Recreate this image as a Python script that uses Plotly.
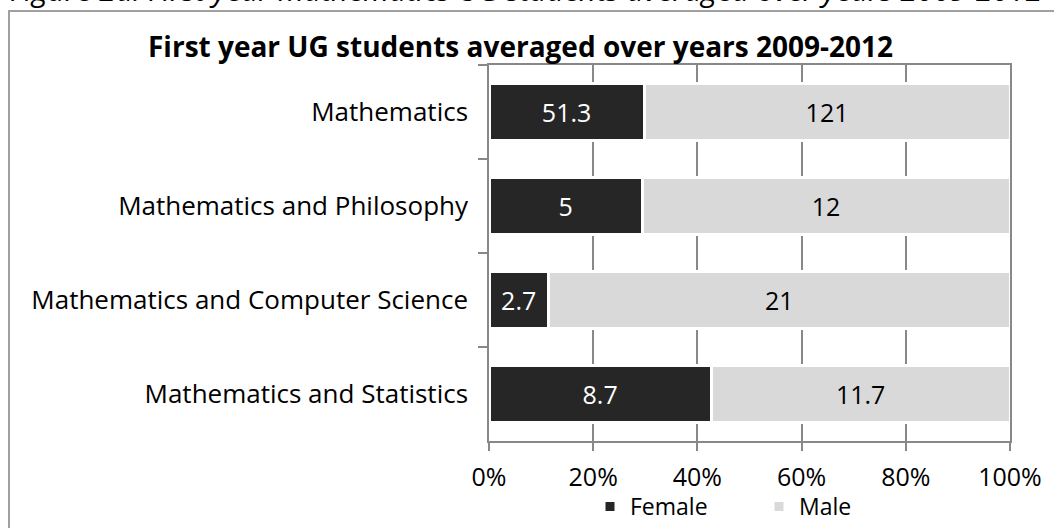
import plotly.graph_objects as go

# Average first-year undergraduate intake, 2009-2012
courses = [
    "Mathematics",
    "Mathematics and Philosophy",
    "Mathematics and Computer Science",
    "Mathematics and Statistics",
]
female = [51.3, 5, 2.7, 8.7]
male = [121, 12, 21, 11.7]
x_ticks = [0, 20, 40, 60, 80, 100]
x_tick_labels = ["0%", "20%", "40%", "60%", "80%", "100%"]

FONT = "Open Sans"
W, H = 1054, 528
L, R, T, B = 489, 44, 65, 87
plot_w = W - L - R
plot_h = H - T - B


def px_x(px):
    return (px - L) / plot_w


def px_y(py):
    return (H - B - py) / plot_h


fig = go.Figure()
fig.add_trace(go.Bar(
    y=courses, x=female, name="Female", orientation="h",
    marker=dict(color="#262626", line=dict(color="white", width=3)),
    text=[f"{v:g}" for v in female], textposition="inside",
    insidetextanchor="middle",
    textfont=dict(family=FONT, size=25, color="white"),
    hoverinfo="skip",
))
fig.add_trace(go.Bar(
    y=courses, x=male, name="Male", orientation="h",
    marker=dict(color="#d9d9d9", line=dict(color="white", width=3)),
    text=[f"{v:g}" for v in male], textposition="inside",
    insidetextanchor="middle",
    textfont=dict(family=FONT, size=25, color="black"),
    hoverinfo="skip",
))

fig.update_layout(
    width=W, height=H,
    margin=dict(l=L, r=R, t=T, b=B, autoexpand=False),
    barmode="stack", barnorm="percent", bargap=0.39,
    plot_bgcolor="white", paper_bgcolor="white",
    font=dict(family=FONT, size=25, color="black"),
    uniformtext=dict(mode="show", minsize=10),
    showlegend=True,
    legend=dict(
        orientation="h", x=px_x(590), y=px_y(485), xanchor="left", yanchor="top",
        font=dict(family=FONT, size=23, color="black"),
        traceorder="normal", entrywidth=124, itemwidth=30,
        bgcolor="rgba(0,0,0,0)",
    ),
    xaxis=dict(
        range=[0, 100], tickvals=x_ticks, ticktext=x_tick_labels,
        showgrid=True, gridcolor="#888888", gridwidth=1.5,
        showline=True, linecolor="#888888", linewidth=1.5, mirror=True,
        ticks="outside", ticklen=8, tickcolor="#888888", tickwidth=1.5,
        ticklabelstandoff=5, zeroline=False, fixedrange=True,
        tickfont=dict(family=FONT, size=25, color="black"),
    ),
    yaxis=dict(
        categoryorder="array", categoryarray=courses, autorange="reversed",
        showgrid=False, showline=True, linecolor="#888888", linewidth=1.5,
        mirror=True, ticks="outside", ticklen=9, tickcolor="#888888",
        tickwidth=1.5, tickson="boundaries", ticklabelstandoff=14,
        fixedrange=True,
        tickfont=dict(family=FONT, size=26, color="black"),
    ),
)

# Chart title
fig.add_annotation(
    text="<b>First year UG students averaged over years 2009-2012</b>",
    xref="paper", yref="paper", x=px_x(520), y=px_y(46),
    xanchor="center", yanchor="middle", showarrow=False,
    font=dict(family=FONT, size=28, color="black"),
)

# Figure caption sitting above the chart frame
fig.add_annotation(
    text="<i>Figure 2a: First year mathematics UG students averaged over years 2009-2012</i>",
    xref="paper", yref="paper", x=px_x(526), y=px_y(12),
    xanchor="center", yanchor="bottom", showarrow=False,
    font=dict(family=FONT, size=30, color="black"),
)

# Outer chart frame (runs off the right and bottom edges)
fig.add_shape(
    type="rect", xref="paper", yref="paper",
    x0=px_x(9), x1=px_x(1070), y0=px_y(540), y1=px_y(11),
    line=dict(color="#a0a0a0", width=2), fillcolor="rgba(0,0,0,0)",
    layer="above",
)

fig.write_html("out.html")
